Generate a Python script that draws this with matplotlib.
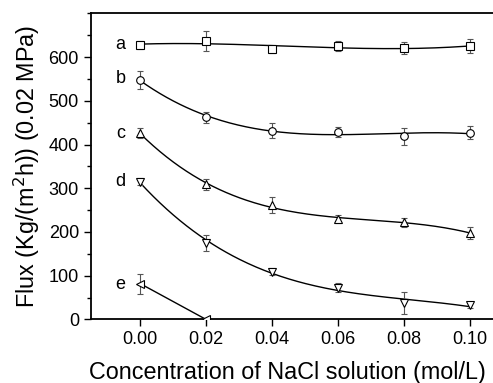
import numpy as np
import matplotlib
matplotlib.use("Agg")
import matplotlib.pyplot as plt
from matplotlib.ticker import MultipleLocator

plt.rcParams['font.family'] = ['Liberation Sans', 'DejaVu Sans']

conc = [0.00, 0.02, 0.04, 0.06, 0.08, 0.10]
flux_a = [628, 637, 618, 625, 620, 625]
err_a = [10, 22, 9, 12, 14, 16]
flux_b = [548, 462, 432, 429, 419, 427]
err_b = [20, 12, 17, 12, 20, 15]
flux_c = [426, 309, 261, 230, 222, 198]
err_c = [12, 12, 18, 10, 10, 13]
flux_d = [315, 175, 109, 73, 38, 32]
err_d = [8, 18, 8, 10, 25, 5]
conc_e = [0.00, 0.02]
flux_e = [82, 0]
err_e = [23, 4]
series_labels = ['a', 'b', 'c', 'd', 'e']
label_y = [628, 550, 426, 315, 80]
xtick_vals = [0.00, 0.02, 0.04, 0.06, 0.08, 0.10]
ytick_vals = [0, 100, 200, 300, 400, 500, 600]

fig = plt.figure(figsize=(4.93, 3.83), dpi=100)
ax = fig.add_axes([0.184, 0.166, 0.8355, 0.799])

series = [
    (conc, flux_a, err_a, 's', 3),
    (conc, flux_b, err_b, 'o', 3),
    (conc, flux_c, err_c, '^', 3),
    (conc, flux_d, err_d, 'v', 3),
    (conc_e, flux_e, err_e, '<', 1),
]
for x, y, e, m, deg in series:
    x = np.asarray(x); y = np.asarray(y)
    coef = np.polyfit(x, y, deg)
    xs = np.linspace(x.min(), x.max(), 200)
    ax.plot(xs, np.polyval(coef, xs), color='black', lw=1.0, zorder=2)
    ax.errorbar(x, y, yerr=e, fmt='none', ecolor='#555555', elinewidth=0.8,
                capsize=2.5, capthick=0.8, zorder=3)
    ax.plot(x, y, linestyle='none', marker=m, markersize=5.5, markerfacecolor='white',
            markeredgecolor='black', markeredgewidth=0.8, zorder=4)

for lab, yy in zip(series_labels, label_y):
    ax.text(-0.0045, yy, lab, fontsize=13, ha='right', va='center')

ax.set_xlim(-0.015, 0.11)
ax.set_ylim(0, 700)
ax.set_xticks(xtick_vals)
ax.set_xticklabels([f'{v:.2f}' for v in xtick_vals])
ax.set_yticks(ytick_vals)
ax.yaxis.set_minor_locator(MultipleLocator(50))
ax.tick_params(axis='both', which='major', direction='out', length=5, width=1, labelsize=13)
ax.tick_params(axis='y', which='minor', direction='out', length=3, width=1)
for s in ax.spines.values():
    s.set_linewidth(1.3)

ax.set_xlabel('Concentration of NaCl solution (mol/L)', fontsize=16.8, labelpad=9)
ax.xaxis.set_label_coords(0.478, -0.135)
ax.set_ylabel('Flux (Kg/(m$^2$h)) (0.02 MPa)', fontsize=16.8, labelpad=5)

fig.savefig('out.png', dpi=100)
